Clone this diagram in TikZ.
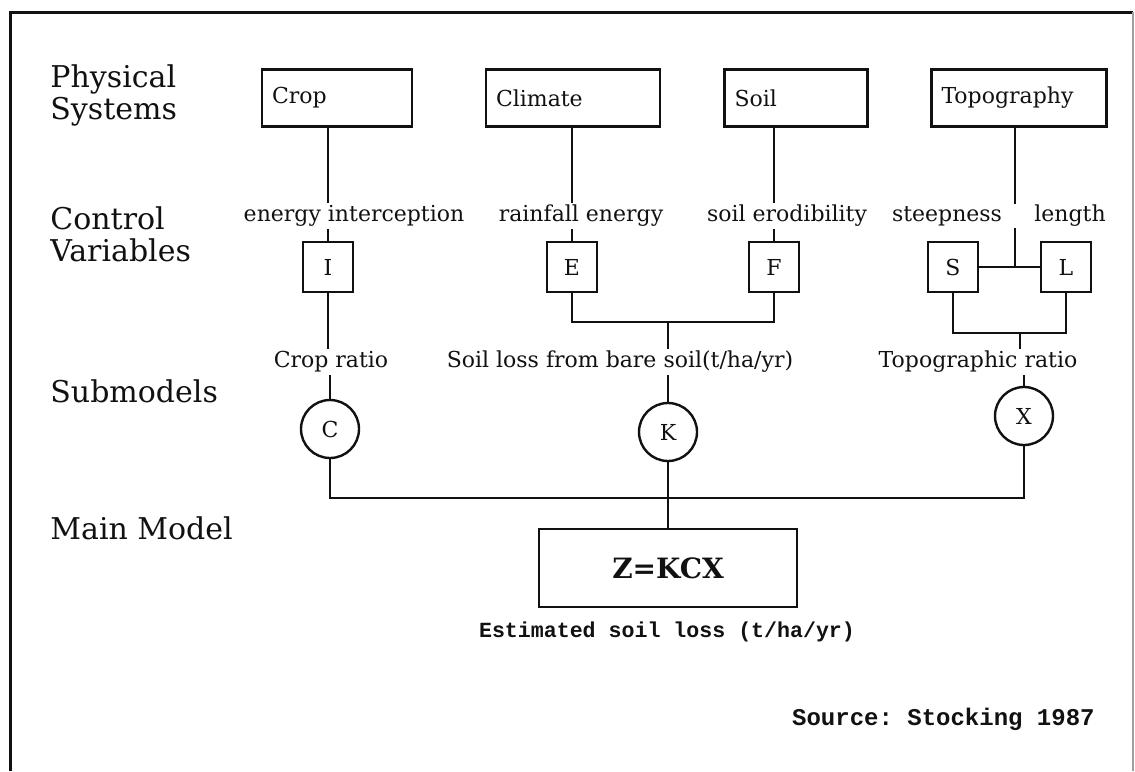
\documentclass[tikz,border=0pt]{standalone}
\usepackage{fontspec}
\setmainfont{DejaVu Serif}
\setmonofont{Liberation Mono}
\usetikzlibrary{positioning, calc}
\definecolor{inkBlack}{HTML}{111111}
\definecolor{frameGray}{HTML}{A0A0A0}
\tikzset{
  lineC/.style={draw=inkBlack, line width=1.2pt},
  boxSys/.style={rectangle, draw=inkBlack, line width=1.4pt, minimum height=28.5pt,
                 inner xsep=5pt, align=left, font=\fontsize{11}{13}\selectfont},
  boxVar/.style={rectangle, draw=inkBlack, line width=1.3pt, minimum width=25pt,
                 minimum height=25pt, inner sep=0pt, font=\fontsize{11}{13}\selectfont},
  circSub/.style={circle, draw=inkBlack, line width=1.2pt, minimum size=29pt,
                  inner sep=0pt, font=\fontsize{11}{13}\selectfont},
  boxMain/.style={rectangle, draw=inkBlack, line width=1.3pt, minimum width=129pt,
                  minimum height=39pt, font=\fontsize{14}{16}\selectfont\bfseries},
  labelL/.style={anchor=west, align=left, inner sep=0pt, font=\fontsize{15}{16}\selectfont},
  labelV/.style={inner sep=1pt, font=\fontsize{11}{13}\selectfont},
}

\begin{document}
\begin{tikzpicture}[x=0.5pt, y=-0.5pt, text=inkBlack]
    \useasboundingbox (0,0) rectangle (1135,771);
    % frame
    \draw[inkBlack, line width=1.5pt] (10,771) -- (10,12) -- (1133,12);
    \draw[frameGray, line width=0.6pt] (1133,12) -- (1133,771);

    % level names
    \node[labelL] (lPhys) at (50,95)  {Physical\\Systems};
    \node[labelL] (lCtrl) at (50,234) {Control\\Variables};
    \node[labelL] (lSub)  at (50,391) {Submodels};
    \node[labelL] (lMain) at (50,528) {Main Model};

    % physical systems
    \foreach \n/\x/\w/\t in {crop/337/65/Crop, climate/573/77/Climate,
                             soil/796/61.5/Soil, topo/1019/77.5/Topography} {
      \node[boxSys, text width=\w pt] (\n) at (\x,98) {\t};
    }

    % control variables
    \foreach \n/\x/\t in {vI/328/I, vE/572/E, vF/774/F, vS/953/S, vL/1066/L} {
      \node[boxVar] (\n) at (\x,267) {\t};
    }
    \node[labelV] (lEI)  at (354,216)  {energy interception};
    \node[labelV] (lRE)  at (581,216)  {rainfall energy};
    \node[labelV] (lSE)  at (787,216)  {soil erodibility};
    \node[labelV] (lSt)  at (947,216)  {steepness};
    \node[labelV] (lLen) at (1070,216) {length};

    \draw[lineC] (vI |- crop.south) -- (vI |- lEI.north);
    \draw[lineC] (vI |- lEI.south) -- (vI);
    \draw[lineC] (vE |- climate.south) -- (vE |- lRE.north);
    \draw[lineC] (vE |- lRE.south) -- (vE);
    \draw[lineC] (vF |- soil.south) -- (vF |- lSE.north);
    \draw[lineC] (vF |- lSE.south) -- (vF);
    \coordinate (jT) at (1015,267);
    \draw[lineC] (jT |- topo.south) -- (jT |- lSt.north);
    \draw[lineC] (jT |- lSt.south) -- (jT);
    \draw[lineC] (vS) -- (vL);

    % submodels
    \node[labelV] (lCR)   at (331,362) {Crop ratio};
    \node[labelV] (lSoil) at (620,362) {Soil loss from bare soil(t/ha/yr)};
    \node[labelV] (lTopo) at (978,362) {Topographic ratio};
    \node[circSub] (cC) at (330,429)  {C};
    \node[circSub] (cK) at (668,432)  {K};
    \node[circSub] (cX) at (1024,416) {X};

    \coordinate (jEF) at (668,322);
    \coordinate (jSL) at (1020,333);
    \draw[lineC] (vI) -- (vI |- lCR.north);
    \draw[lineC] (cC |- lCR.south) -- (cC);
    \draw[lineC] (vE) |- (jEF) -| (vF);
    \draw[lineC] (jEF) -- (jEF |- lSoil.north);
    \draw[lineC] (cK |- lSoil.south) -- (cK);
    \draw[lineC] (vS) |- (jSL) -| (vL);
    \draw[lineC] (jSL) -- (jSL |- lTopo.north);
    \draw[lineC] (cX |- lTopo.south) -- (cX);

    % main model
    \node[boxMain] (zMain) at (668,568) {Z=KCX};
    \node[labelV, font=\fontsize{10.8}{13}\selectfont\ttfamily\bfseries] (lEst)
      at (667,632) {Estimated soil loss (t/ha/yr)};
    \coordinate (bus) at (668,498);
    \draw[lineC] (cC) |- (bus) -| (cX);
    \draw[lineC] (cK) -- (zMain);

    \node[anchor=east, inner sep=0pt, font=\fontsize{12}{14}\selectfont\ttfamily\bfseries]
      (lSrc) at (1095,719) {Source: Stocking 1987};
\end{tikzpicture}
\end{document}
